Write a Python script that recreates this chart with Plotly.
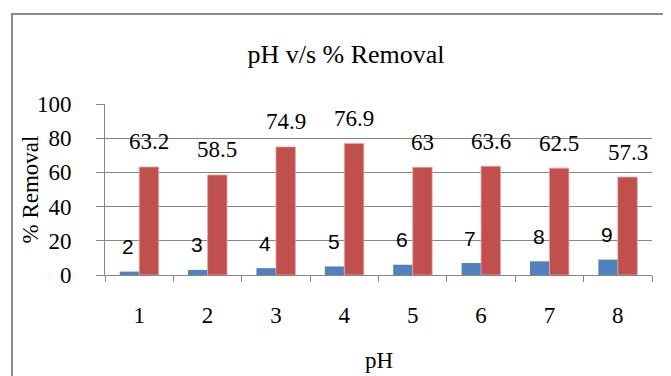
import plotly.graph_objects as go

categories = ["1", "2", "3", "4", "5", "6", "7", "8"]
ph_values = [2, 3, 4, 5, 6, 7, 8, 9]
removal_values = [63.2, 58.5, 74.9, 76.9, 63, 63.6, 62.5, 57.3]
y_ticks = [0, 20, 40, 60, 80, 100]

# page body has an 8px margin, so the figure is laid out 8px up/left
OFF = 8
W, H = 671 - OFF, 376 - OFF
ML, MR, MT, MB = 105 - OFF, (671 - OFF) - (652 - OFF), 104 - OFF, (376 - OFF) - (275 - OFF)
PW = W - ML - MR
PH = H - MT - MB

BLUE = "#4F81BD"
RED = "#C0504D"
GRID = "#868686"
SERIF = "Liberation Serif"
SANS = "Liberation Sans"

fig = go.Figure()
fig.add_trace(go.Bar(x=categories, y=ph_values, name="pH",
                     marker=dict(color=BLUE, line=dict(width=0))))
fig.add_trace(go.Bar(x=categories, y=removal_values, name="% Removal",
                     marker=dict(color=RED, line=dict(width=0.8, color="#E3A9A7"))))

bar_px = PW / len(categories) * (1 - 0.43) / 2
for i, v in enumerate(ph_values):
    fig.add_annotation(x=i, y=v, xref="x", yref="y", text=str(v), showarrow=False,
                       xshift=-bar_px / 2 - 1, yshift=25, yanchor="middle",
                       font=dict(family=SANS, size=21, color="#000000"))
for i, v in enumerate(removal_values):
    fig.add_annotation(x=i, y=v, xref="x", yref="y", text=f"{v:g}", showarrow=False,
                       xshift=bar_px / 2, yshift=25, yanchor="middle",
                       font=dict(family=SERIF, size=23, color="#000000"))

# axis titles
fig.add_annotation(x=(30 - 105) / PW, y=0.5, xref="paper", yref="paper", text="% Removal",
                   textangle=-90, showarrow=False, xanchor="center", yanchor="middle",
                   font=dict(family=SERIF, size=23, color="#000000"))
fig.add_annotation(x=0.5, y=-(360 - 275) / PH, xref="paper", yref="paper", text="pH",
                   showarrow=False, xanchor="center", yanchor="middle",
                   font=dict(family=SERIF, size=23, color="#000000"))

# chart frame (left and top edges visible)
fx = (12 - 105) / PW
fy = 1 + (104 - 14) / PH
fig.add_shape(type="path", xref="paper", yref="paper",
              path=f"M {fx} -2 L {fx} {fy} L 2 {fy}",
              line=dict(color="#8C8C8C", width=2))

fig.update_layout(
    width=W, height=H,
    margin=dict(l=ML, r=MR, t=MT, b=MB),
    paper_bgcolor="white", plot_bgcolor="white",
    barmode="group", bargap=0.43, bargroupgap=0,
    showlegend=False,
    title=dict(text="pH v/s % Removal", x=(346 - OFF) / W, xref="container", xanchor="center",
               y=1 - (54 - OFF) / H, yref="container", yanchor="middle",
               font=dict(family=SERIF, size=26, color="#000000")),
    xaxis=dict(type="category", showline=True, linecolor=GRID, linewidth=1,
               ticks="outside", tickson="boundaries", ticklen=6, tickcolor=GRID,
               ticklabelstandoff=19, showgrid=False,
               tickfont=dict(family=SERIF, size=23, color="#000000")),
    yaxis=dict(range=[0, 100], tickvals=y_ticks, showline=True, linecolor=GRID, linewidth=1,
               ticks="outside", ticklen=8, tickcolor=GRID, ticklabelstandoff=20,
               showgrid=True, gridcolor=GRID, gridwidth=1, zeroline=False,
               tickfont=dict(family=SERIF, size=23, color="#000000")),
)

fig.write_html("out.html")
